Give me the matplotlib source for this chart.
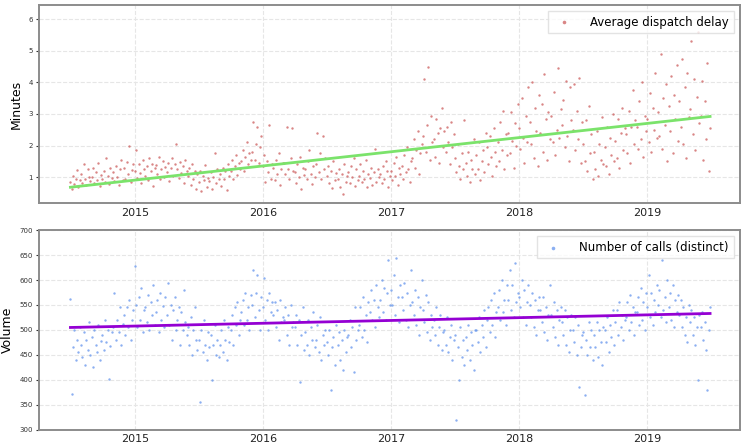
import numpy as np
import pandas as pd
import matplotlib
matplotlib.use('Agg')
import matplotlib.pyplot as plt
import matplotlib.dates as mdates

# ---------------- datos (8 lecturas por mes) ----------------
start_date = '2014-07-01'
end_date = '2019-06-30'

delay_minutes = [
    0.85, 0.62, 1.05, 0.78, 0.95, 1.22, 0.70, 0.90,
    1.10, 0.82, 1.40, 0.95, 0.75, 1.25, 1.02, 0.88,
    1.00, 1.30, 0.80, 1.15, 0.92, 1.45, 0.72, 1.08,
    0.95, 1.20, 0.85, 1.62, 1.05, 0.78, 1.30, 0.98,
    1.15, 0.88, 1.35, 1.02, 0.75, 1.25, 1.55, 0.92,
    1.30, 0.95, 1.48, 1.10, 1.98, 0.85, 1.22, 1.40,
    1.20, 1.85, 0.98, 1.40, 1.12, 0.80, 1.55, 1.25,
    1.05, 1.35, 0.90, 1.60, 1.18, 1.42, 0.72, 1.28,
    1.38, 1.10, 1.65, 0.95, 1.25, 1.50, 1.02, 1.32,
    1.15, 1.45, 0.88, 1.30, 1.62, 1.05, 1.40, 2.05,
    1.25, 0.98, 1.48, 1.12, 1.35, 0.82, 1.55, 1.20,
    1.05, 1.30, 0.75, 1.40, 0.95, 1.18, 0.62, 1.10,
    0.85, 1.20, 0.55, 1.05, 0.92, 1.38, 0.70, 0.98,
    0.88, 1.15, 0.62, 1.02, 1.75, 0.80, 1.25, 0.95,
    1.10, 0.72, 1.30, 0.95, 1.18, 0.60, 1.40, 1.05,
    1.20, 1.55, 0.95, 1.35, 1.70, 1.08, 1.45, 1.25,
    1.50, 1.85, 1.20, 1.65, 2.10, 1.40, 1.75, 1.55,
    1.80, 2.75, 1.55, 2.05, 2.60, 1.45, 1.95, 2.30,
    1.35, 1.70, 0.85, 1.50, 1.15, 2.65, 0.95, 1.40,
    1.30, 0.90, 1.55, 1.10, 1.75, 0.75, 1.25, 1.45,
    1.45, 1.10, 2.60, 1.25, 0.95, 1.60, 2.55, 1.20,
    1.15, 0.80, 1.40, 1.00, 1.65, 0.62, 1.30, 1.08,
    1.25, 0.95, 1.50, 1.85, 1.10, 0.78, 1.35, 1.02,
    1.40, 2.40, 1.15, 1.75, 0.95, 2.30, 1.25, 1.60,
    1.05, 1.35, 0.80, 1.20, 0.65, 1.50, 0.92, 1.12,
    0.95, 1.25, 0.70, 1.10, 0.48, 1.40, 0.85, 1.05,
    1.15, 0.80, 1.35, 1.00, 1.60, 0.72, 1.25, 0.92,
    1.05, 1.40, 0.85, 1.20, 0.95, 1.55, 0.70, 1.10,
    0.98, 1.30, 0.75, 1.15, 1.88, 0.85, 1.25, 1.02,
    1.10, 0.82, 1.35, 0.95, 1.50, 1.20, 0.68, 1.05,
    1.20, 0.90, 1.45, 1.05, 1.65, 0.75, 1.30, 1.10,
    1.35, 0.95, 1.70, 1.15, 1.95, 1.25, 0.85, 1.50,
    1.60, 2.20, 1.30, 1.85, 2.45, 1.10, 1.75, 2.05,
    2.30, 4.10, 1.80, 2.65, 4.50, 1.55, 2.95, 2.10,
    2.20, 1.65, 2.85, 2.40, 1.45, 2.55, 3.20, 1.95,
    2.45, 1.80, 2.60, 2.10, 1.40, 2.75, 1.95, 2.35,
    1.60, 1.15, 2.05, 1.35, 0.95, 1.75, 1.25, 2.80,
    1.45, 1.05, 1.80, 0.85, 1.55, 1.25, 2.20, 1.10,
    1.70, 1.25, 2.10, 0.90, 1.50, 1.85, 1.15, 2.40,
    1.95, 1.40, 2.30, 1.65, 1.05, 2.55, 1.80, 1.35,
    2.10, 1.50, 2.75, 1.85, 3.10, 1.25, 2.35, 1.70,
    2.40, 1.75, 3.05, 2.15, 1.30, 2.70, 2.00, 3.30,
    2.55, 1.90, 3.50, 2.25, 1.45, 2.95, 2.10, 3.85,
    2.75, 2.05, 4.00, 1.60, 3.20, 2.45, 1.35, 3.60,
    2.40, 3.30, 1.80, 4.25, 2.85, 1.55, 3.05, 2.20,
    2.95, 2.10, 3.70, 1.70, 2.50, 4.45, 2.25, 3.15,
    2.65, 3.45, 1.95, 4.05, 2.30, 1.50, 3.85, 2.80,
    2.50, 3.95, 1.85, 3.10, 2.20, 4.15, 1.45, 2.75,
    2.05, 1.50, 2.80, 1.20, 3.25, 1.75, 2.35, 0.95,
    1.80, 1.25, 2.45, 1.05, 2.05, 1.55, 2.90, 1.40,
    1.95, 1.35, 2.60, 1.10, 2.25, 1.70, 3.00, 1.50,
    2.15, 1.60, 2.85, 1.30, 2.40, 3.20, 1.85, 2.55,
    2.35, 1.75, 3.10, 1.45, 2.60, 3.75, 2.05, 2.80,
    2.60, 1.90, 3.40, 2.20, 4.00, 1.65, 2.95, 2.45,
    2.85, 2.10, 3.65, 1.80, 3.20, 2.50, 4.30, 2.25,
    3.05, 2.30, 4.90, 1.90, 3.50, 2.65, 3.95, 1.50,
    3.25, 2.45, 4.20, 1.75, 3.60, 2.85, 4.55, 2.15,
    3.40, 2.60, 4.75, 2.05, 3.85, 1.60, 4.30, 2.90,
    3.15, 5.30, 2.35, 4.10, 1.85, 3.55, 5.60, 2.70,
    2.95, 4.05, 1.55, 3.40, 2.20, 4.60, 1.20, 2.55,
]

call_volume = [
    562, 372, 465, 500, 440, 480, 455, 505,
    470, 445, 495, 430, 480, 460, 515, 450,
    485, 425, 500, 470, 455, 510, 440, 478,
    490, 460, 520, 475, 500, 402, 468, 495,
    505, 575, 480, 520, 495, 545, 470, 512,
    530, 490, 545, 505, 560, 480, 520, 540,
    628, 550, 505, 565, 520, 585, 495, 540,
    545, 515, 570, 500, 555, 530, 590, 510,
    535, 560, 495, 575, 520, 548, 505, 565,
    530, 595, 510, 550, 480, 540, 565, 500,
    520, 545, 470, 535, 500, 580, 515, 490,
    505, 470, 525, 450, 500, 545, 480, 460,
    480, 355, 500, 455, 520, 470, 440, 495,
    465, 490, 400, 470, 510, 450, 480, 445,
    470, 500, 455, 520, 480, 440, 505, 475,
    500, 530, 470, 545, 510, 555, 490, 520,
    535, 560, 510, 575, 520, 545, 500, 570,
    550, 620, 525, 575, 610, 540, 500, 565,
    545, 605, 520, 560, 500, 575, 535, 555,
    530, 555, 505, 540, 480, 560, 515, 525,
    520, 545, 490, 530, 470, 550, 505, 515,
    505, 530, 470, 520, 395, 490, 545, 460,
    495, 470, 520, 450, 505, 480, 535, 465,
    480, 510, 455, 525, 440, 490, 470, 500,
    475, 450, 500, 380, 465, 485, 430, 510,
    470, 495, 440, 480, 420, 500, 455, 485,
    490, 520, 465, 505, 415, 545, 480, 500,
    510, 545, 485, 565, 500, 530, 475, 555,
    535, 580, 520, 560, 505, 590, 545, 525,
    560, 600, 535, 585, 520, 575, 640, 550,
    580, 550, 610, 530, 645, 565, 515, 590,
    565, 540, 595, 520, 575, 505, 550, 620,
    555, 530, 580, 510, 565, 490, 545, 600,
    540, 515, 570, 495, 555, 480, 530, 505,
    520, 490, 545, 470, 505, 530, 460, 495,
    500, 470, 525, 455, 485, 510, 440, 480,
    490, 320, 465, 400, 505, 445, 480, 430,
    485, 460, 510, 440, 495, 470, 420, 500,
    500, 475, 525, 455, 510, 485, 540, 465,
    520, 545, 495, 560, 510, 575, 485, 535,
    545, 580, 520, 600, 535, 560, 510, 590,
    560, 620, 540, 590, 525, 635, 555, 575,
    565, 545, 600, 525, 580, 510, 555, 590,
    550, 525, 575, 505, 560, 490, 540, 565,
    540, 515, 565, 495, 545, 480, 530, 590,
    530, 505, 555, 485, 540, 470, 520, 545,
    515, 490, 540, 470, 525, 455, 500, 530,
    500, 475, 525, 450, 510, 385, 465, 490,
    495, 370, 480, 450, 515, 465, 500, 440,
    490, 465, 515, 445, 500, 475, 430, 505,
    500, 475, 525, 455, 510, 485, 540, 470,
    515, 540, 490, 555, 505, 530, 480, 520,
    525, 555, 500, 570, 515, 545, 490, 535,
    535, 565, 510, 585, 520, 555, 500, 575,
    545, 610, 525, 575, 510, 560, 535, 590,
    550, 580, 525, 640, 540, 565, 515, 600,
    545, 575, 520, 590, 505, 560, 535, 570,
    530, 560, 505, 545, 490, 525, 475, 550,
    515, 540, 490, 525, 470, 505, 400, 530,
    505, 535, 480, 515, 460, 380, 500, 545,
]

# tendencia lineal (valores al inicio y al final)
delay_trend = [0.68, 2.92]
volume_trend = [505, 533]

# ---------------- dibujo ----------------
fechas = pd.date_range(start_date, end_date, periods=len(delay_minutes))
fechas_v = pd.date_range(start_date, end_date, periods=len(call_volume))
fechas_t = pd.to_datetime([start_date, end_date])

fig = plt.figure(figsize=(7.41, 4.45), dpi=100)
ax1 = fig.add_axes([0.052, 0.543, 0.946, 0.446])
ax2 = fig.add_axes([0.052, 0.034, 0.946, 0.449])

ax1.scatter(fechas, delay_minutes, s=3, color='indianred', alpha=0.75,
            linewidths=0, label='Average dispatch delay')
ax1.plot(fechas_t, delay_trend, color='#7be36b', linewidth=2)

ax2.scatter(fechas_v, call_volume, s=3, color='cornflowerblue', alpha=0.75,
            linewidths=0, label='Number of calls (distinct)')
ax2.plot(fechas_t, volume_trend, color='#9400d3', linewidth=2)

xlim = (pd.Timestamp('2014-04-01'), pd.Timestamp('2019-09-22'))
for ax in (ax1, ax2):
    ax.set_xlim(xlim)
    ax.xaxis.set_major_locator(mdates.YearLocator())
    ax.xaxis.set_major_formatter(mdates.DateFormatter('%Y'))
    ax.grid(True, color='#e6e6e6', linewidth=0.8, linestyle='--')
    ax.set_axisbelow(True)
    for sp in ax.spines.values():
        sp.set_color('#8c8c8c')
        sp.set_linewidth(1.4)
    ax.tick_params(axis='x', labelsize=8, length=0, pad=3, colors='#222222')
    ax.tick_params(axis='y', labelsize=5, length=2, pad=2, colors='#333333')
    ax.legend(loc='upper right', fontsize=8.5, markerscale=1.5,
              handletextpad=1.2, edgecolor='#dddddd', fancybox=False)

ax1.set_ylim(0.17, 6.45)
ax1.set_yticks([1, 2, 3, 4, 5, 6])
ax1.set_ylabel('Minutes', fontsize=9, labelpad=4)

ax2.set_ylim(300, 700)
ax2.set_yticks(np.arange(300, 701, 50))
ax2.set_ylabel('Volume', fontsize=9, labelpad=4)

plt.savefig('out.png', dpi=100)
